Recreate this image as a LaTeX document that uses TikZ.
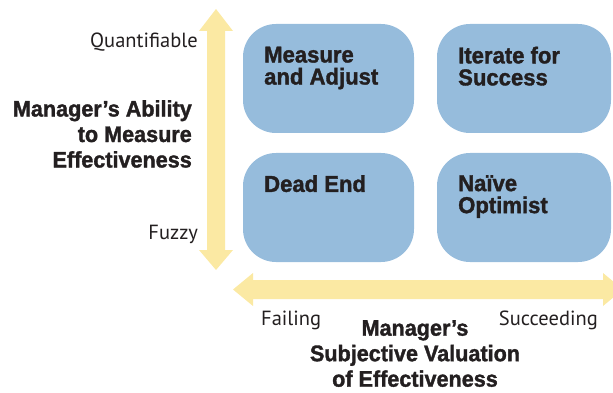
\documentclass[tikz,border=0pt]{standalone}
\usepackage{fontspec}
\setmainfont{Liberation Sans}
\newfontfamily\condbold[FakeStretch=0.96,FakeBold=1.5]{Liberation Sans Bold}
\newfontfamily\labelfont{PT Sans}
\definecolor{arrowyellow}{HTML}{FBE9A3}
\definecolor{boxblue}{HTML}{96BCDC}
\definecolor{textdark}{HTML}{231F20}
\begin{document}
\begin{tikzpicture}[x=1pt,y=-1pt,
  quad/.style={fill=boxblue,draw=none,rounded corners=33pt},
  quadtext/.style={anchor=north west,align=left,font=\condbold\fontsize{23}{22}\selectfont,text=textdark,inner sep=0pt},
  axistitle/.style={font=\condbold\fontsize{22.5}{25.5}\selectfont,text=textdark,inner sep=0pt},
  axislabel/.style={font=\labelfont\fontsize{20.5}{20.5}\selectfont,text=textdark,inner sep=0pt}]
\useasboundingbox (0,0) rectangle (613,393);
\begin{scope}
\clip (0,0) rectangle (613,393);
% vertical double arrow
\fill[arrowyellow] (216,9) -- (233,31) -- (225,31) -- (225,250) -- (233,250) -- (216,270)
  -- (199,250) -- (207,250) -- (207,31) -- (199,31) -- cycle;
% horizontal double arrow
\fill[arrowyellow] (233,289.5) -- (253,273) -- (253,280) -- (603,280) -- (603,273) -- (623,289.5)
  -- (603,306) -- (603,299) -- (253,299) -- (253,306) -- cycle;
\end{scope}
% quadrants
\path[quad] (243,24) rectangle (414,133);
\path[quad] (437,24) rectangle (611,133);
\path[quad] (243,153) rectangle (414,262);
\path[quad] (437,153) rectangle (611,262);
\node[quadtext] (ma) at (264,46.5) {Measure\\and Adjust};
\node[quadtext] (it) at (458,46.5) {Iterate for\\Success};
\node[quadtext] (de) at (264,175) {Dead End};
\node[quadtext] (no) at (458,175) {Naïve\\Optimist};
% vertical axis labels
\node[axislabel,anchor=base east] (q) at (198,48) {Quantifiable};
\node[axislabel,anchor=base east] (f) at (198,239) {Fuzzy};
\node[axistitle,anchor=north east,align=right] (vt) at (192,100) {Manager’s Ability\\to Measure\\Effectiveness};
% horizontal axis labels
\node[axislabel,anchor=base west] (fa) at (261,325) {Failing};
\node[axislabel,anchor=base east] (su) at (598,325) {Succeeding};
\node[axistitle,anchor=north,align=center] (ht) at (415,320) {Manager’s\\Subjective Valuation\\of Effectiveness};
\end{tikzpicture}
\end{document}
